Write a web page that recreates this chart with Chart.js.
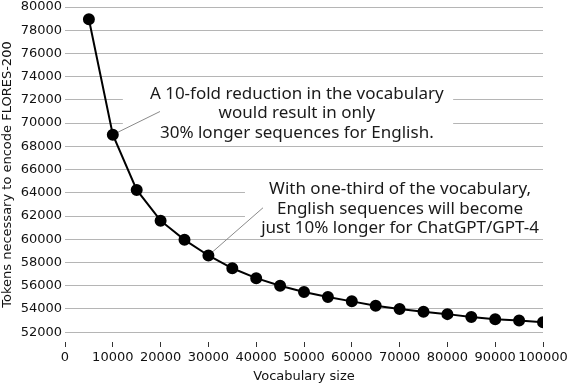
<!DOCTYPE html>
<html>
<head>
<meta charset="utf-8">
<script src="https://cdn.jsdelivr.net/npm/chart.js@4.4.1/dist/chart.umd.min.js"></script>
<style>
  body { margin: 0; background: #fff; }
  canvas { display: block; }
</style>
</head>
<body>
<canvas id="myChart" width="568" height="384"></canvas>
<script>
// data
const vocabSizes = [5000, 10000, 15000, 20000, 25000, 30000, 35000, 40000, 45000, 50000,
                    55000, 60000, 65000, 70000, 75000, 80000, 85000, 90000, 95000, 100000];
const tokenCounts = [78950, 69000, 64250, 61600, 59950, 58600, 57500, 56650, 56000, 55450,
                     55030, 54650, 54280, 54000, 53750, 53550, 53300, 53100, 53000, 52850];
const yTicks = [52000, 54000, 56000, 58000, 60000, 62000, 64000, 66000, 68000, 70000,
                72000, 74000, 76000, 78000, 80000];

const notes = [
    {
        lines: ['A 10-fold reduction in the vocabulary', 'would result in only', '30% longer sequences for English.'],
        center: [48500, 70830], box: [12100, 73500, 81200, 68500],
        pointIdx: 1, lineEnd: [19870, 71000]
    },
    {
        lines: ['With one-third of the vocabulary,', 'English sequences will become', 'just 10% longer for ChatGPT/GPT-4'],
        center: [70100, 62620], box: [37650, 65500, 100000, 60500],
        pointIdx: 5, lineEnd: [41420, 62710]
    }
];

const notesPlugin = {
    id: 'notes',
    beforeDatasetsDraw(chart) {
        const ctx = chart.ctx;
        const xs = chart.scales.x, ys = chart.scales.y;
        ctx.save();
        notes.forEach(n => {
            const bx1 = xs.getPixelForValue(n.box[0]), by1 = ys.getPixelForValue(n.box[1]);
            const bx2 = xs.getPixelForValue(n.box[2]), by2 = ys.getPixelForValue(n.box[3]);
            ctx.fillStyle = '#fff';
            ctx.fillRect(bx1, by1, bx2 - bx1, by2 - by1);

            // connector
            ctx.strokeStyle = '#8a8a8a';
            ctx.lineWidth = 1;
            ctx.beginPath();
            ctx.moveTo(xs.getPixelForValue(vocabSizes[n.pointIdx]), ys.getPixelForValue(tokenCounts[n.pointIdx]));
            ctx.lineTo(xs.getPixelForValue(n.lineEnd[0]), ys.getPixelForValue(n.lineEnd[1]));
            ctx.stroke();

            ctx.fillStyle = '#1a1a1a';
            ctx.font = '17px "Noto Sans"';
            ctx.textAlign = 'center';
            ctx.textBaseline = 'middle';
            const cx = xs.getPixelForValue(n.center[0]);
            const cy = ys.getPixelForValue(n.center[1]);
            n.lines.forEach((t, i) => ctx.fillText(t, cx, cy + (i - 1) * 19.5));
        });
        ctx.restore();
    }
};

const plain = v => String(v);

new Chart(document.getElementById('myChart'), {
    type: 'line',
    data: {
        datasets: [{
            data: vocabSizes.map((v, i) => ({x: v, y: tokenCounts[i]})),
            borderColor: '#000',
            backgroundColor: '#000',
            borderWidth: 2,
            pointRadius: 5,
            pointHoverRadius: 5,
            pointBackgroundColor: '#000',
            tension: 0
        }]
    },
    options: {
        responsive: false,
        animation: false,
        devicePixelRatio: 1,
        layout: { padding: { top: 5, right: 25, left: 0, bottom: 0 } },
        plugins: { legend: { display: false }, tooltip: { enabled: false } },
        scales: {
            x: {
                type: 'linear',
                min: 0, max: 100000,
                border: { display: false },
                grid: { drawOnChartArea: false, drawTicks: true, tickLength: 5, color: '#333' },
                ticks: {
                    stepSize: 10000, autoSkip: false, maxRotation: 0, padding: 3,
                    callback: plain,
                    color: '#111', font: { family: 'DejaVu Sans', size: 13 }
                },
                title: {
                    display: true, text: 'Vocabulary size', padding: 0,
                    color: '#111', font: { family: 'DejaVu Sans', size: 13 }
                },
                afterFit(scale) {
                    scale.height = 42;
                    scale.paddingLeft = 0;
                    scale.paddingRight = 0;
                }
            },
            y: {
                min: 51150, max: 80000,
                border: { display: false },
                grid: { color: '#b5b5b5', drawTicks: false },
                afterBuildTicks(scale) {
                    scale.ticks = yTicks.map(v => ({value: v}));
                },
                ticks: {
                    padding: 3,
                    callback: plain,
                    color: '#111', font: { family: 'DejaVu Sans', size: 13 }
                },
                title: {
                    display: true, text: 'Tokens necessary to encode FLORES-200', padding: 0,
                    color: '#111', font: { family: 'DejaVu Sans', size: 13 }
                },
                afterFit(scale) {
                    scale.width = 65;
                    scale.paddingTop = 0;
                    scale.paddingBottom = 0;
                }
            }
        }
    },
    plugins: [notesPlugin]
});
</script>
</body>
</html>
